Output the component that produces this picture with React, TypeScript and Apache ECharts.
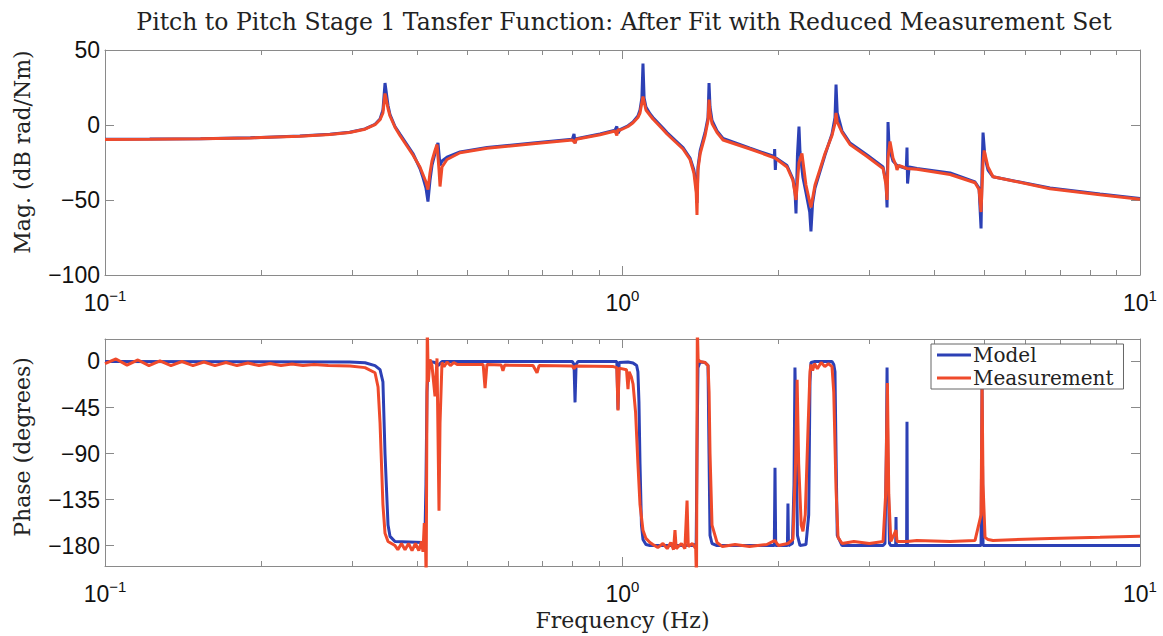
import React, { useEffect, useRef } from 'react';
import * as echarts from 'echarts';

const titleText = 'Pitch to Pitch Stage 1 Tansfer Function: After Fit with Reduced Measurement Set';
const magName = 'Mag. (dB rad/Nm)';
const phaseName = 'Phase (degrees)';
const freqName = 'Frequency (Hz)';
const seriesNames = ['Model', 'Measurement'];

const xTickValues = [0.1, 1, 10];
const xTickExponents = ['−1', '0', '1'];
const magTicks = [-100, -50, 0, 50];
const phaseTicks = [-180, -135, -90, -45, 0];
const minorTicks = [0.2, 0.3, 0.4, 0.5, 0.6, 0.7, 0.8, 0.9, 2, 3, 4, 5, 6, 7, 8, 9];

const magModel = [
  [0.100, -9.5], [0.122, -9.4], [0.153, -9.1], [0.191, -8.5], [0.238, -7.4], [0.272, -6.2], [0.297, -4.8],
  [0.318, -2.6], [0.3325, 0.5], [0.340, 4], [0.3444, 10], [0.3476, 28], [0.3523, 13], [0.3554, 7],
  [0.3634, -1], [0.3715, -6], [0.3936, -19], [0.4061, -29], [0.4116, -35], [0.4171, -42], [0.4208, -51],
  [0.4246, -37], [0.4284, -27], [0.4342, -19], [0.4381, -14], [0.4400, -12], [0.4440, -27], [0.4479, -24],
  [0.458, -21.5], [0.4853, -18], [0.5474, -15], [0.6716, -12], [0.800, -9.5], [0.806, -6], [0.8096, -12],
  [0.814, -9.2], [0.9048, -6], [0.9672, -3.5], [0.975, -1], [0.980, -5.5], [0.989, -3], [1.0247, -0.5],
  [1.048, 2], [1.071, 6], [1.081, 10], [1.090, 18], [1.0954, 41], [1.101, 18], [1.110, 12], [1.130, 7.5],
  [1.145, 5], [1.197, -2], [1.219, -5], [1.263, -10], [1.309, -15], [1.3505, -22], [1.374, -30],
  [1.388, -40], [1.393, -52], [1.399, -28], [1.413, -17], [1.444, -5], [1.4631, 5], [1.4696, 28],
  [1.4761, 12], [1.4893, 3], [1.5229, -4], [1.5641, -9], [1.764, -15.5], [1.965, -21], [1.968, -16],
  [1.974, -30], [1.98, -22], [2.079, -27], [2.135, -36], [2.155, -45], [2.164, -59], [2.178, -20],
  [2.193, -1], [2.203, -18], [2.232, -35], [2.262, -45], [2.300, -58], [2.313, -71], [2.330, -52],
  [2.355, -42], [2.462, -20], [2.54, -6], [2.574, 5], [2.586, 27], [2.600, 8], [2.656, -4], [2.752, -12],
  [2.969, -20], [3.188, -28], [3.230, -38], [3.245, -55], [3.259, 2], [3.275, -15], [3.332, -24],
  [3.392, -27], [3.535, -29], [3.546, -15], [3.555, -39], [3.58, -28], [3.707, -29], [4.296, -32],
  [4.800, -38], [4.886, -42], [4.930, -69], [4.952, -30], [4.974, -5], [5.018, -22], [5.085, -30],
  [5.199, -34.5], [6.701, -42], [8.368, -46], [10.0, -49],
];

const magMeas = [
  [0.100, -9.6], [0.122, -9.5], [0.153, -9.2], [0.191, -8.6], [0.238, -7.5], [0.272, -6.3], [0.297, -5],
  [0.318, -2.8], [0.3325, 0.2], [0.340, 3.5], [0.3444, 8], [0.3476, 21], [0.3523, 11], [0.3554, 6],
  [0.3634, -1.5], [0.3715, -7], [0.3936, -20], [0.4061, -28], [0.4116, -33], [0.4171, -38], [0.4208, -43],
  [0.4246, -32], [0.4284, -24], [0.4342, -17], [0.4381, -13], [0.4420, -30], [0.4440, -41], [0.4479, -28],
  [0.458, -23], [0.4853, -18.5], [0.5474, -15.5], [0.6716, -12.5], [0.800, -10], [0.8096, -12],
  [0.814, -9.5], [0.9048, -6.5], [0.9672, -4], [0.975, -7], [0.980, -3], [0.989, -3.5], [1.0247, -1],
  [1.048, 1.5], [1.071, 5], [1.081, 8], [1.0954, 19], [1.110, 10], [1.130, 6.5], [1.145, 4], [1.197, -3],
  [1.219, -6], [1.263, -11], [1.309, -16], [1.3505, -23], [1.374, -32], [1.388, -45], [1.393, -60],
  [1.399, -30], [1.413, -19], [1.444, -7], [1.4631, 3], [1.4696, 17], [1.4761, 8], [1.4893, 1],
  [1.5229, -5], [1.5641, -10], [1.764, -16], [1.971, -22], [2.079, -28], [2.135, -37], [2.164, -50],
  [2.193, -25], [2.222, -19], [2.262, -40], [2.313, -55], [2.355, -40], [2.462, -19], [2.54, -7],
  [2.574, 1], [2.586, 8], [2.600, 2], [2.656, -5], [2.752, -13], [2.969, -21], [3.188, -29], [3.230, -40],
  [3.245, -50], [3.259, -22], [3.288, -11], [3.332, -22], [3.377, -27], [3.392, -30], [3.420, -27],
  [3.546, -29], [3.707, -29.5], [4.296, -33], [4.800, -38.5], [4.886, -43], [4.930, -58], [4.974, -25],
  [5.000, -17], [5.085, -28], [5.199, -34.5], [6.701, -42.5], [8.368, -46.5], [10.0, -49.5],
];

const phaseModel = [
  [0.100, 0], [0.297, -0.5], [0.318, -1.2], [0.3325, -4], [0.340, -8], [0.3444, -20], [0.3476, -90],
  [0.3523, -160], [0.3554, -171], [0.3634, -176], [0.4116, -177], [0.4150, -175], [0.4171, -120],
  [0.4190, -30], [0.4208, -8], [0.4246, 0], [0.4342, -1], [0.4400, -4], [0.4479, 0], [0.800, 0],
  [0.806, -3], [0.8096, -40], [0.8135, -3], [0.820, 0], [0.975, 0], [0.9802, -47], [0.985, -1],
  [1.0247, -0.5], [1.048, -1.5], [1.065, -4], [1.071, -10], [1.076, -40], [1.081, -100], [1.088, -160],
  [1.0954, -174], [1.110, -179], [1.130, -180], [1.374, -180], [1.388, -178], [1.393, -90], [1.399, -6],
  [1.4119, -0.5], [1.4436, -1], [1.4631, -4], [1.4696, -90], [1.4761, -170], [1.4893, -178],
  [1.5229, -180], [1.965, -180], [1.971, -104], [1.977, -180], [2.083, -180], [2.088, -139],
  [2.093, -180], [2.130, -178], [2.145, -120], [2.154, -6], [2.163, -60], [2.178, -170], [2.203, -180],
  [2.262, -179], [2.290, -150], [2.303, -20], [2.313, -1], [2.355, 0], [2.540, 0], [2.560, -3],
  [2.574, -10], [2.586, -90], [2.600, -170], [2.656, -180], [3.188, -180], [3.215, -178], [3.235, -90],
  [3.245, -6], [3.255, -90], [3.280, -178], [3.300, -180], [3.372, -180], [3.377, -152], [3.382, -180],
  [3.540, -180], [3.546, -59], [3.552, -180], [4.930, -180], [4.952, -25], [4.974, -180], [10.0, -180],
];

const phaseMeas = [
  [0.1000, -2], [0.1050, 2.5], [0.1103, -3.5], [0.1158, 1.5], [0.1216, -4], [0.1277, 0.5], [0.1341, -4],
  [0.1408, 0], [0.1479, -4], [0.1553, -0.5], [0.1631, -4], [0.1713, -1], [0.1799, -4], [0.1889, -1.5],
  [0.1984, -4], [0.2084, -2], [0.2188, -4], [0.2298, -2.5], [0.2413, -4], [0.2534, -3], [0.270, -4],
  [0.2974, -4.5], [0.318, -6], [0.3325, -11], [0.337, -25], [0.340, -60], [0.3444, -140], [0.3476, -168],
  [0.3523, -176], [0.3634, -180], [0.368, -184], [0.374, -178], [0.380, -184], [0.386, -178],
  [0.392, -185], [0.398, -178], [0.404, -185], [0.409, -176], [0.4116, -186], [0.4140, -158],
  [0.4160, -170], [0.4175, -215], [0.4195, 35], [0.4215, -20], [0.4246, 2], [0.4284, -4], [0.4342, -34],
  [0.4381, 3], [0.4420, -146], [0.4440, -60], [0.4479, -1], [0.452, -5], [0.458, -0.5], [0.465, -4],
  [0.472, -1], [0.480, -3], [0.538, -3], [0.5425, -26], [0.547, -3], [0.583, -3.5], [0.5874, -9],
  [0.592, -3.5], [0.6716, -4], [0.6836, -11], [0.690, -4], [0.800, -4.5], [0.806, -7], [0.812, -4.5],
  [0.960, -5], [0.975, -6], [0.9802, -48], [0.985, -6.5], [1.018, -8], [1.0247, -27], [1.030, -10],
  [1.040, -15], [1.048, -22], [1.060, -50], [1.071, -100], [1.081, -140], [1.0954, -165], [1.110, -173],
  [1.130, -177], [1.145, -179], [1.170, -182], [1.197, -178], [1.220, -183], [1.240, -177], [1.255, -184],
  [1.263, -165], [1.270, -183], [1.300, -178], [1.320, -183], [1.3327, -136], [1.340, -181],
  [1.365, -178], [1.385, -183], [1.390, -215], [1.395, 35], [1.400, 2], [1.4119, 0], [1.4436, -1],
  [1.4631, -4], [1.470, -30], [1.4761, -90], [1.4893, -160], [1.5229, -177], [1.56, -181], [1.65, -179],
  [1.76, -181], [1.90, -179], [1.971, -175], [2.000, -180], [2.088, -178], [2.135, -174], [2.160, -100],
  [2.175, -18], [2.190, -100], [2.215, -160], [2.232, -166], [2.255, -150], [2.285, -60], [2.303, -10],
  [2.313, -3], [2.330, -9], [2.350, -2], [2.380, -7], [2.420, -1], [2.460, -5], [2.500, -2], [2.540, -5],
  [2.560, -30], [2.586, -125], [2.609, -172], [2.656, -178], [2.80, -176], [3.00, -178], [3.188, -176],
  [3.225, -130], [3.250, -21], [3.270, -130], [3.300, -176], [3.377, -165], [3.392, -176], [3.546, -176],
  [3.707, -175], [4.296, -176], [4.800, -175], [4.930, -150], [4.952, -20], [4.974, -120], [5.018, -172],
  [5.085, -174], [5.199, -175], [6.701, -173], [8.368, -172], [10.0, -171],
];

const BLUE = '#2c40b5';
const RED = '#ef4a2b';
const AXIS_COLOR = '#8a8a8a';
const SERIF = 'DejaVu Serif';
const SANS = 'Liberation Sans';

const minus = (v: number) => String(v).replace('-', '−');

function xLabelFormatter(v: number) {
  const e = Math.round(Math.log10(v));
  const idx = xTickValues.findIndex((t) => Math.round(Math.log10(t)) === e);
  return '{b|10}{s|' + (idx >= 0 ? xTickExponents[idx] : String(e)) + '}';
}

function xAxis(gridIndex: number, position: 'top' | 'bottom', labels: boolean, extra: any = {}) {
  return {
    type: 'log',
    logBase: 10,
    min: 0.1,
    max: 10,
    gridIndex,
    position,
    axisLine: { show: true, onZero: false, lineStyle: { color: AXIS_COLOR, width: 1 } },
    axisTick: { show: true, inside: true, length: 9, lineStyle: { color: AXIS_COLOR } },
    splitLine: { show: false },
    axisLabel: labels
      ? {
          show: true,
          margin: 13,
          showMinLabel: true,
          showMaxLabel: true,
          formatter: xLabelFormatter,
          rich: {
            b: { fontFamily: SANS, fontSize: 23, color: '#111', lineHeight: 26, verticalAlign: 'bottom' },
            s: { fontFamily: SANS, fontSize: 15, color: '#111', lineHeight: 8, verticalAlign: 'top' },
          },
        }
      : { show: false },
    ...extra,
  };
}

function yAxis(gridIndex: number, position: 'left' | 'right', labels: boolean, min: number, max: number, ticks: number[]) {
  return {
    type: 'value',
    gridIndex,
    position,
    min,
    max,
    axisLine: { show: true, onZero: false, lineStyle: { color: AXIS_COLOR, width: 1 } },
    axisTick: { show: true, inside: true, length: 9, lineStyle: { color: AXIS_COLOR }, customValues: ticks },
    splitLine: { show: false },
    axisLabel: labels
      ? { show: true, customValues: ticks, margin: 5, fontFamily: SANS, fontSize: 23, color: '#111', formatter: minus }
      : { show: false, customValues: ticks },
  };
}

function minorTickSeries(xAxisIndex: number, yAxisIndex: number) {
  return {
    type: 'custom',
    xAxisIndex,
    yAxisIndex,
    silent: true,
    z: 5,
    data: minorTicks.map((f) => [f, 0]),
    renderItem: (params: any, api: any) => {
      const p = api.coord([api.value(0), 0]);
      const cs = params.coordSys;
      const x = Math.round(p[0]) + 0.5;
      const yb = cs.y + cs.height;
      const yt = cs.y;
      return {
        type: 'group',
        children: [
          { type: 'line', shape: { x1: x, y1: yb, x2: x, y2: yb - 5 }, style: { stroke: AXIS_COLOR, lineWidth: 1 } },
          { type: 'line', shape: { x1: x, y1: yt, x2: x, y2: yt + 5 }, style: { stroke: AXIS_COLOR, lineWidth: 1 } },
        ],
      };
    },
  };
}

function lineSeries(name: string, data: number[][], xAxisIndex: number, yAxisIndex: number, color: string, z: number) {
  return {
    type: 'line',
    name,
    data,
    xAxisIndex,
    yAxisIndex,
    showSymbol: false,
    symbol: 'none',
    clip: true,
    z,
    lineStyle: { width: 3, color },
    itemStyle: { color },
  };
}

export default function App() {
  const ref = useRef<HTMLDivElement>(null);
  useEffect(() => {
    if (!ref.current) return;
    const chart = echarts.init(ref.current, null, { renderer: 'svg' });
    const option: any = {
      animation: false,
      backgroundColor: '#ffffff',
      title: {
        text: titleText,
        left: 619,
        top: 5,
        textAlign: 'center',
        textStyle: { fontFamily: SERIF, fontSize: 23.5, fontWeight: 'normal', color: '#222' },
      },
      legend: {
        data: seriesNames,
        orient: 'vertical',
        left: 931,
        top: 344,
        icon: 'rect',
        itemWidth: 34,
        itemHeight: 3,
        itemGap: 3,
        backgroundColor: '#ffffff',
        borderColor: '#666',
        borderWidth: 1,
        padding: [1, 10, 1, 6],
        selectedMode: false,
        z: 10,
        textStyle: { fontFamily: SERIF, fontSize: 20, color: '#222', lineHeight: 20, padding: [0, 0, 0, -3] },
      },
      grid: [
        { left: 105, top: 50, width: 1035, height: 225 },
        { left: 105, top: 339, width: 1035, height: 227 },
      ],
      xAxis: [
        xAxis(0, 'bottom', true),
        xAxis(0, 'top', false),
        xAxis(1, 'bottom', true, {
          name: freqName,
          nameLocation: 'middle',
          nameGap: 43,
          nameTextStyle: { fontFamily: SERIF, fontSize: 22, color: '#222' },
        }),
        xAxis(1, 'top', false),
      ],
      yAxis: [
        yAxis(0, 'left', true, -100, 50, magTicks),
        yAxis(0, 'right', false, -100, 50, magTicks),
        yAxis(1, 'left', true, -200, 22, phaseTicks),
        yAxis(1, 'right', false, -200, 22, phaseTicks),
      ],
      graphic: [
        {
          type: 'text',
          x: 22,
          y: 152,
          rotation: Math.PI / 2,
          style: { text: magName, fontFamily: SERIF, fontSize: 22, fill: '#222', align: 'center', verticalAlign: 'middle' },
        },
        {
          type: 'text',
          x: 22,
          y: 447,
          rotation: Math.PI / 2,
          style: { text: phaseName, fontFamily: SERIF, fontSize: 22, fill: '#222', align: 'center', verticalAlign: 'middle' },
        },
      ],
      series: [
        lineSeries(seriesNames[0], magModel, 0, 0, BLUE, 2),
        lineSeries(seriesNames[1], magMeas, 0, 0, RED, 3),
        lineSeries(seriesNames[0], phaseModel, 2, 2, BLUE, 2),
        lineSeries(seriesNames[1], phaseMeas, 2, 2, RED, 3),
        minorTickSeries(0, 0),
        minorTickSeries(2, 2),
      ],
    };
    chart.setOption(option);
    return () => chart.dispose();
  }, []);
  return <div ref={ref} style={{ position: 'absolute', left: 0, top: 0, width: 1163, height: 636 }} />;
}
